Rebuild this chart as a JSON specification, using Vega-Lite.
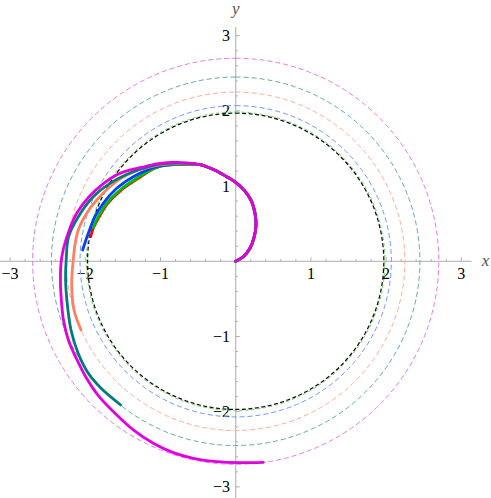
{
 "$schema": "https://vega.github.io/schema/vega-lite/v6.json",
 "width": 491, "height": 498, "padding": 0, "autosize": {"type": "none"},
 "background": "white",
 "config": {"view": {"stroke": null}},
 "resolve": {"scale": {"stroke": "independent", "strokeWidth": "independent"}},
 "datasets": {
  "ticks": [
   {"v":-3},{"v":-2.8},{"v":-2.6},{"v":-2.4},{"v":-2.2},{"v":-2},{"v":-1.8},{"v":-1.6},{"v":-1.4},{"v":-1.2},{"v":-1},{"v":-0.8},{"v":-0.6},{"v":-0.4},{"v":-0.2},
   {"v":0.2},{"v":0.4},{"v":0.6},{"v":0.8},{"v":1},{"v":1.2},{"v":1.4},{"v":1.6},{"v":1.8},{"v":2},{"v":2.2},{"v":2.4},{"v":2.6},{"v":2.8},{"v":3}
  ],
  "circles": [
   {"c": "magenta", "r": 2.70}, {"c": "teal", "r": 2.45}, {"c": "salmon", "r": 2.25},
   {"c": "blue", "r": 2.07}, {"c": "green", "r": 1.985}, {"c": "black", "r": 1.97}
  ],
  "curves": [
   {"c":"red","i":0,"x":0,"y":0},{"c":"red","i":1,"x":0.101,"y":0.061},{"c":"red","i":2,"x":0.19,"y":0.173},{"c":"red","i":3,"x":0.247,"y":0.327},{"c":"red","i":4,"x":0.27,"y":0.483},{"c":"red","i":5,"x":0.257,"y":0.638},{"c":"red","i":6,"x":0.213,"y":0.793},{"c":"red","i":7,"x":0.146,"y":0.904},{"c":"red","i":8,"x":0.057,"y":1.001},{"c":"red","i":9,"x":-0.032,"y":1.072},{"c":"red","i":10,"x":-0.12,"y":1.125},{"c":"red","i":11,"x":-0.253,"y":1.201},{"c":"red","i":12,"x":-0.386,"y":1.258},{"c":"red","i":13,"x":-0.475,"y":1.285},
   {"c":"red","i":14,"x":-0.741,"y":1.29},{"c":"red","i":15,"x":-1.05,"y":1.25},{"c":"red","i":16,"x":-1.3,"y":1.1},{"c":"red","i":17,"x":-1.53,"y":0.94},{"c":"red","i":18,"x":-1.71,"y":0.76},{"c":"red","i":19,"x":-1.82,"y":0.58},{"c":"red","i":20,"x":-1.894,"y":0.439},{"c":"red","i":21,"x":-1.928,"y":0.327},
   {"c":"green","i":0,"x":0,"y":0},{"c":"green","i":1,"x":0.101,"y":0.061},{"c":"green","i":2,"x":0.19,"y":0.173},{"c":"green","i":3,"x":0.247,"y":0.327},{"c":"green","i":4,"x":0.27,"y":0.483},{"c":"green","i":5,"x":0.257,"y":0.638},{"c":"green","i":6,"x":0.213,"y":0.793},{"c":"green","i":7,"x":0.146,"y":0.904},{"c":"green","i":8,"x":0.057,"y":1.001},{"c":"green","i":9,"x":-0.032,"y":1.072},{"c":"green","i":10,"x":-0.12,"y":1.125},{"c":"green","i":11,"x":-0.253,"y":1.201},{"c":"green","i":12,"x":-0.386,"y":1.258},{"c":"green","i":13,"x":-0.475,"y":1.285},
   {"c":"green","i":14,"x":-0.741,"y":1.29},{"c":"green","i":15,"x":-1.05,"y":1.25},{"c":"green","i":16,"x":-1.316,"y":1.104},{"c":"green","i":17,"x":-1.539,"y":0.948},{"c":"green","i":18,"x":-1.715,"y":0.771},{"c":"green","i":19,"x":-1.827,"y":0.593},{"c":"green","i":20,"x":-1.894,"y":0.447},
   {"c":"blue","i":0,"x":0,"y":0},{"c":"blue","i":1,"x":0.101,"y":0.061},{"c":"blue","i":2,"x":0.19,"y":0.173},{"c":"blue","i":3,"x":0.247,"y":0.327},{"c":"blue","i":4,"x":0.27,"y":0.483},{"c":"blue","i":5,"x":0.257,"y":0.638},{"c":"blue","i":6,"x":0.213,"y":0.793},{"c":"blue","i":7,"x":0.146,"y":0.904},{"c":"blue","i":8,"x":0.057,"y":1.001},{"c":"blue","i":9,"x":-0.032,"y":1.072},{"c":"blue","i":10,"x":-0.12,"y":1.125},{"c":"blue","i":11,"x":-0.253,"y":1.201},{"c":"blue","i":12,"x":-0.386,"y":1.258},{"c":"blue","i":13,"x":-0.475,"y":1.285},
   {"c":"blue","i":14,"x":-0.741,"y":1.295},{"c":"blue","i":15,"x":-1.05,"y":1.26},{"c":"blue","i":16,"x":-1.362,"y":1.125},{"c":"blue","i":17,"x":-1.582,"y":0.971},{"c":"blue","i":18,"x":-1.761,"y":0.771},{"c":"blue","i":19,"x":-1.871,"y":0.593},{"c":"blue","i":20,"x":-1.96,"y":0.372},{"c":"blue","i":21,"x":-2.035,"y":0.15},
   {"c":"salmon","i":0,"x":0,"y":0},{"c":"salmon","i":1,"x":0.101,"y":0.061},{"c":"salmon","i":2,"x":0.19,"y":0.173},{"c":"salmon","i":3,"x":0.247,"y":0.327},{"c":"salmon","i":4,"x":0.27,"y":0.483},{"c":"salmon","i":5,"x":0.257,"y":0.638},{"c":"salmon","i":6,"x":0.213,"y":0.793},{"c":"salmon","i":7,"x":0.146,"y":0.904},{"c":"salmon","i":8,"x":0.057,"y":1.001},{"c":"salmon","i":9,"x":-0.032,"y":1.072},{"c":"salmon","i":10,"x":-0.12,"y":1.125},{"c":"salmon","i":11,"x":-0.253,"y":1.201},{"c":"salmon","i":12,"x":-0.386,"y":1.258},{"c":"salmon","i":13,"x":-0.475,"y":1.285},
   {"c":"salmon","i":14,"x":-0.741,"y":1.3},{"c":"salmon","i":15,"x":-1.05,"y":1.275},{"c":"salmon","i":16,"x":-1.449,"y":1.148},{"c":"salmon","i":17,"x":-1.672,"y":0.992},{"c":"salmon","i":18,"x":-1.848,"y":0.815},{"c":"salmon","i":19,"x":-1.981,"y":0.638},{"c":"salmon","i":20,"x":-2.093,"y":0.416},{"c":"salmon","i":21,"x":-2.14,"y":0.2},{"c":"salmon","i":22,"x":-2.16,"y":0.017},{"c":"salmon","i":23,"x":-2.181,"y":-0.293},{"c":"salmon","i":24,"x":-2.15,"y":-0.648},{"c":"salmon","i":25,"x":-2.057,"y":-0.914},
   {"c":"teal","i":0,"x":0,"y":0},{"c":"teal","i":1,"x":0.101,"y":0.061},{"c":"teal","i":2,"x":0.19,"y":0.173},{"c":"teal","i":3,"x":0.247,"y":0.327},{"c":"teal","i":4,"x":0.27,"y":0.483},{"c":"teal","i":5,"x":0.257,"y":0.638},{"c":"teal","i":6,"x":0.213,"y":0.793},{"c":"teal","i":7,"x":0.146,"y":0.904},{"c":"teal","i":8,"x":0.057,"y":1.001},{"c":"teal","i":9,"x":-0.032,"y":1.072},{"c":"teal","i":10,"x":-0.12,"y":1.125},{"c":"teal","i":11,"x":-0.253,"y":1.201},{"c":"teal","i":12,"x":-0.386,"y":1.258},{"c":"teal","i":13,"x":-0.475,"y":1.285},
   {"c":"teal","i":14,"x":-0.741,"y":1.305},{"c":"teal","i":15,"x":-1.05,"y":1.285},{"c":"teal","i":16,"x":-1.362,"y":1.191},{"c":"teal","i":17,"x":-1.672,"y":1.037},{"c":"teal","i":18,"x":-1.894,"y":0.859},{"c":"teal","i":19,"x":-2.093,"y":0.593},{"c":"teal","i":20,"x":-2.222,"y":0.327},{"c":"teal","i":21,"x":-2.255,"y":0.0},{"c":"teal","i":22,"x":-2.262,"y":-0.25},{"c":"teal","i":23,"x":-2.245,"y":-0.515},{"c":"teal","i":24,"x":-2.19,"y":-0.914},{"c":"teal","i":25,"x":-2.095,"y":-1.223},{"c":"teal","i":26,"x":-1.96,"y":-1.489},{"c":"teal","i":27,"x":-1.79,"y":-1.689},{"c":"teal","i":28,"x":-1.529,"y":-1.911},
   {"c":"magenta","i":0,"x":0,"y":0},{"c":"magenta","i":1,"x":0.101,"y":0.061},{"c":"magenta","i":2,"x":0.19,"y":0.173},{"c":"magenta","i":3,"x":0.247,"y":0.327},{"c":"magenta","i":4,"x":0.27,"y":0.483},{"c":"magenta","i":5,"x":0.257,"y":0.638},{"c":"magenta","i":6,"x":0.213,"y":0.793},{"c":"magenta","i":7,"x":0.146,"y":0.904},{"c":"magenta","i":8,"x":0.057,"y":1.001},{"c":"magenta","i":9,"x":-0.032,"y":1.072},{"c":"magenta","i":10,"x":-0.12,"y":1.125},{"c":"magenta","i":11,"x":-0.253,"y":1.201},{"c":"magenta","i":12,"x":-0.386,"y":1.258},{"c":"magenta","i":13,"x":-0.475,"y":1.285},
   {"c":"magenta","i":14,"x":-0.65,"y":1.31},{"c":"magenta","i":15,"x":-0.85,"y":1.315},{"c":"magenta","i":16,"x":-1.05,"y":1.295},{"c":"magenta","i":17,"x":-1.25,"y":1.25},{"c":"magenta","i":18,"x":-1.4,"y":1.215},{"c":"magenta","i":19,"x":-1.58,"y":1.15},{"c":"magenta","i":20,"x":-1.75,"y":1.04},{"c":"magenta","i":21,"x":-1.95,"y":0.859},{"c":"magenta","i":22,"x":-2.114,"y":0.638},{"c":"magenta","i":23,"x":-2.2,"y":0.45},{"c":"magenta","i":24,"x":-2.29,"y":0.17},{"c":"magenta","i":25,"x":-2.323,"y":-0.027},{"c":"magenta","i":26,"x":-2.33,"y":-0.293},{"c":"magenta","i":27,"x":-2.318,"y":-0.515},{"c":"magenta","i":28,"x":-2.29,"y":-0.781},{"c":"magenta","i":29,"x":-2.225,"y":-1.047},{"c":"magenta","i":30,"x":-2.13,"y":-1.269},{"c":"magenta","i":31,"x":-1.995,"y":-1.535},{"c":"magenta","i":32,"x":-1.815,"y":-1.801},{"c":"magenta","i":33,"x":-1.582,"y":-2.044},{"c":"magenta","i":34,"x":-1.362,"y":-2.243},{"c":"magenta","i":35,"x":-1.096,"y":-2.42},{"c":"magenta","i":36,"x":-0.83,"y":-2.545},{"c":"magenta","i":37,"x":-0.564,"y":-2.62},{"c":"magenta","i":38,"x":-0.253,"y":-2.665},{"c":"magenta","i":39,"x":0.057,"y":-2.678},{"c":"magenta","i":40,"x":0.367,"y":-2.673}
  ]
 },
 "layer": [
  {
   "data": {"values": [{}]},
   "mark": {"type": "rule", "color": "#bdbdbd", "strokeWidth": 1.3},
   "encoding": {
    "x": {"datum": -3.134, "type": "quantitative", "scale": {"domain": [-3.134, 3.395], "nice": false, "zero": false}, "axis": null},
    "x2": {"datum": 3.136},
    "y": {"datum": 0, "type": "quantitative", "scale": {"domain": [-3.148, 3.475], "nice": false, "zero": false}, "axis": null}
   }
  },
  {
   "data": {"values": [{}]},
   "mark": {"type": "rule", "color": "#bdbdbd", "strokeWidth": 1.3},
   "encoding": {
    "x": {"datum": 0, "type": "quantitative", "axis": null},
    "y": {"datum": -3.148, "type": "quantitative", "axis": null},
    "y2": {"datum": 3.116}
   }
  },
  {
   "data": {"name": "ticks"},
   "transform": [{"filter": "datum.v % 1 === 0"}],
   "mark": {"type": "rule", "color": "#b0b0b0", "strokeWidth": 1},
   "encoding": {
    "x": {"field": "v", "type": "quantitative", "axis": null},
    "y": {"datum": 0, "type": "quantitative", "axis": null},
    "y2": {"datum": 0.055}
   }
  },
  {
   "data": {"name": "ticks"},
   "transform": [{"filter": "datum.v % 1 !== 0"}],
   "mark": {"type": "rule", "color": "#b0b0b0", "strokeWidth": 1},
   "encoding": {
    "x": {"field": "v", "type": "quantitative", "axis": null},
    "y": {"datum": 0, "type": "quantitative", "axis": null},
    "y2": {"datum": 0.03}
   }
  },
  {
   "data": {"name": "ticks"},
   "transform": [{"filter": "datum.v % 1 === 0"}],
   "mark": {"type": "rule", "color": "#b0b0b0", "strokeWidth": 1},
   "encoding": {
    "y": {"field": "v", "type": "quantitative", "axis": null},
    "x": {"datum": 0, "type": "quantitative", "axis": null},
    "x2": {"datum": 0.055}
   }
  },
  {
   "data": {"name": "ticks"},
   "transform": [{"filter": "datum.v % 1 !== 0"}],
   "mark": {"type": "rule", "color": "#b0b0b0", "strokeWidth": 1},
   "encoding": {
    "y": {"field": "v", "type": "quantitative", "axis": null},
    "x": {"datum": 0, "type": "quantitative", "axis": null},
    "x2": {"datum": 0.03}
   }
  },
  {
   "data": {"name": "ticks"},
   "transform": [{"filter": "datum.v % 1 === 0"}],
   "mark": {"type": "text", "font": "Liberation Serif", "fontSize": 16, "color": "black", "align": "center", "baseline": "alphabetic", "dy": 17.7},
   "encoding": {
    "x": {"field": "v", "type": "quantitative", "axis": null},
    "y": {"datum": 0, "type": "quantitative", "axis": null},
    "text": {"field": "v", "type": "quantitative", "format": "d"}
   }
  },
  {
   "data": {"name": "ticks"},
   "transform": [{"filter": "datum.v % 1 === 0"}],
   "mark": {"type": "text", "font": "Liberation Serif", "fontSize": 16, "color": "black", "align": "right", "baseline": "alphabetic", "dx": -5.7, "dy": 5.4},
   "encoding": {
    "y": {"field": "v", "type": "quantitative", "axis": null},
    "x": {"datum": 0, "type": "quantitative", "axis": null},
    "text": {"field": "v", "type": "quantitative", "format": "d"}
   }
  },
  {
   "data": {"name": "circles"},
   "transform": [{"filter": "datum.c !== 'black' && datum.c !== 'green'"}],
   "mark": {"type": "arc", "filled": false, "theta": 0, "theta2": 6.2832, "strokeDash": [5, 3], "strokeWidth": 1},
   "encoding": {
    "x": {"datum": 0, "type": "quantitative", "axis": null},
    "y": {"datum": 0, "type": "quantitative", "axis": null},
    "radius": {"field": "r", "type": "quantitative", "stack": null, "scale": {"type": "linear", "domain": [0, 3], "range": [0, 225.6], "zero": true}},
    "stroke": {"field": "c", "type": "nominal", "legend": null,
     "scale": {"domain": ["magenta","teal","salmon","blue"], "range": ["#e67ae6","#62aaaa","#ffab96","#7593ff"]}}
   }
  },
  {
   "data": {"name": "circles"},
   "transform": [{"filter": "datum.c === 'black'"}],
   "mark": {"type": "arc", "filled": false, "theta": 0, "theta2": 6.2832, "strokeDash": [4, 2.5], "strokeWidth": 1.3, "stroke": "#111111"},
   "encoding": {
    "x": {"datum": 0, "type": "quantitative", "axis": null},
    "y": {"datum": 0, "type": "quantitative", "axis": null},
    "radius": {"field": "r", "type": "quantitative", "stack": null}
   }
  },
  {
   "data": {"name": "circles"},
   "transform": [{"filter": "datum.c === 'green'"}],
   "mark": {"type": "arc", "filled": false, "theta": 0, "theta2": 6.2832, "strokeDash": [3, 3], "strokeWidth": 1, "stroke": "#66cc66"},
   "encoding": {
    "x": {"datum": 0, "type": "quantitative", "axis": null},
    "y": {"datum": 0, "type": "quantitative", "axis": null},
    "radius": {"field": "r", "type": "quantitative", "stack": null}
   }
  },
  {
   "data": {"name": "curves"},
   "mark": {"type": "line", "strokeCap": "round", "strokeJoin": "round", "interpolate": "catmull-rom"},
   "encoding": {
    "x": {"field": "x", "type": "quantitative", "axis": null},
    "y": {"field": "y", "type": "quantitative", "axis": null},
    "order": {"field": "i", "type": "quantitative"},
    "detail": {"field": "c", "type": "nominal"},
    "stroke": {"field": "c", "type": "nominal", "legend": null,
     "scale": {"domain": ["red","green","blue","salmon","teal","magenta"], "range": ["#ff0000","#00c000","#0040ff","#ff7f60","#007a7a","#e000e0"]}},
    "strokeWidth": {"field": "c", "type": "nominal", "legend": null,
     "scale": {"domain": ["red","green","blue","salmon","teal","magenta"], "range": [2.8, 2.8, 3, 3, 3.2, 3.6]}}
   }
  },
  {
   "data": {"values": [{}]},
   "mark": {"type": "text", "font": "Liberation Serif", "fontStyle": "italic", "fontSize": 17, "color": "#555555", "align": "center", "baseline": "alphabetic"},
   "encoding": {
    "x": {"datum": 3.322, "type": "quantitative", "axis": null},
    "y": {"datum": -0.0625, "type": "quantitative", "axis": null},
    "text": {"value": "x"}
   }
  },
  {
   "data": {"values": [{}]},
   "mark": {"type": "text", "font": "Liberation Serif", "fontStyle": "italic", "fontSize": 17, "color": "#555555", "align": "center", "baseline": "alphabetic"},
   "encoding": {
    "x": {"datum": 0, "type": "quantitative", "axis": null},
    "y": {"datum": 3.295, "type": "quantitative", "axis": null},
    "text": {"value": "y"}
   }
  }
 ]
}
